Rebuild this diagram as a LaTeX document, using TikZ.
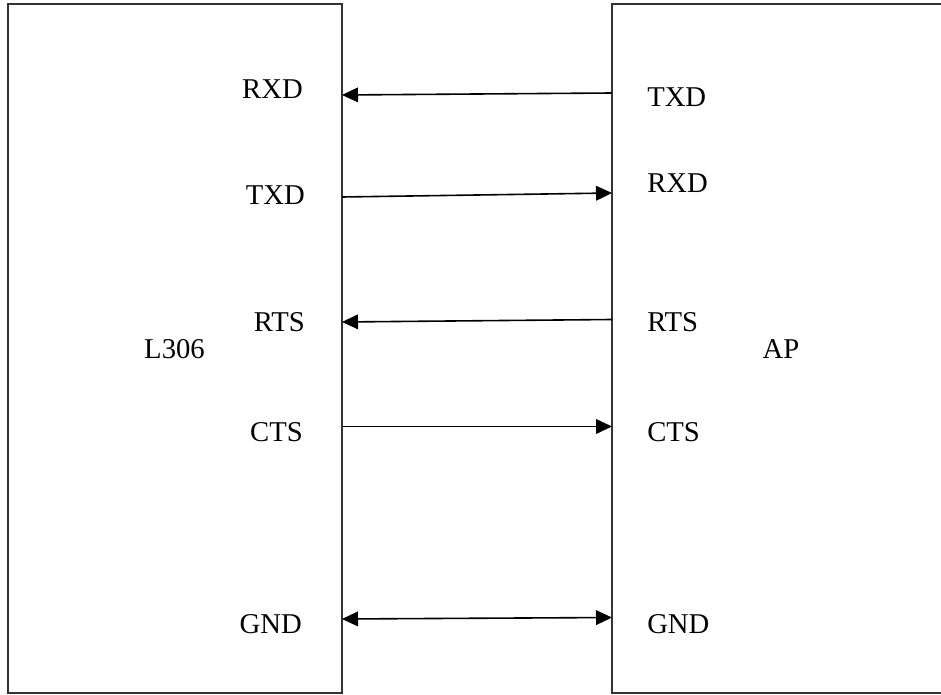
\documentclass[tikz,border=0pt]{standalone}
\usepackage{fontspec}
\setmainfont{Liberation Serif}
\usetikzlibrary{arrows.meta, positioning}

\begin{document}
\begin{tikzpicture}[x=0.75pt, y=-0.75pt,
    font=\fontsize{21.5}{26}\selectfont,
    chip/.style={draw=black!80, line width=1.3pt, rectangle, minimum height=516.75pt},
    pinl/.style={anchor=east, inner sep=0pt},
    pinr/.style={anchor=west, inner sep=0pt},
    tip/.style={Triangle[length=12pt, width=11pt]},
    wire/.style={line width=1.2pt, -{Triangle[length=12pt, width=11pt]}}]
    \useasboundingbox (0,0) rectangle (941,695);

    % Chips
    \node[chip, minimum width=250.5pt] (l306) at (175, 348.5) {};
    \node[chip, minimum width=255pt] (ap) at (782, 348.5) {}; % runs off the page
    \node (l306name) at (174.5, 349) {L306};
    \node (apname) at (781, 349) {AP};

    % Pins on L306
    \node[pinl] (lrxd) at (303, 89.5) {RXD};
    \node[pinl] (ltxd) at (305, 195) {TXD};
    \node[pinl] (lrts) at (305, 322) {RTS};
    \node[pinl] (lcts) at (303, 432) {CTS};
    \node[pinl] (lgnd) at (302, 624.5) {GND};

    % Pins on AP
    \node[pinr] (atxd) at (647, 97.5) {TXD};
    \node[pinr] (arxd) at (647, 183) {RXD};
    \node[pinr] (arts) at (647, 322) {RTS};
    \node[pinr] (acts) at (647, 432) {CTS};
    \node[pinr] (agnd) at (647, 624.5) {GND};

    % Wire ends on the chip edges
    \coordinate (l1) at (342, 95);  \coordinate (a1) at (612, 93);
    \coordinate (l2) at (342, 197); \coordinate (a2) at (612, 193);
    \coordinate (l3) at (342, 322); \coordinate (a3) at (612, 319.5);
    \coordinate (l4) at (342, 426.5); \coordinate (a4) at (612, 426.5);
    \coordinate (l5) at (342, 619); \coordinate (a5) at (612, 617.5);

    % Wires
    \draw[wire] (a1) -- (l1);
    \draw[wire] (l2) -- (a2);
    \draw[wire] (a3) -- (l3);
    \draw[wire] (l4) -- (a4);
    \draw[wire, {Triangle[length=12pt, width=11pt]}-{Triangle[length=12pt, width=11pt]}] (l5) -- (a5);
\end{tikzpicture}
\end{document}
